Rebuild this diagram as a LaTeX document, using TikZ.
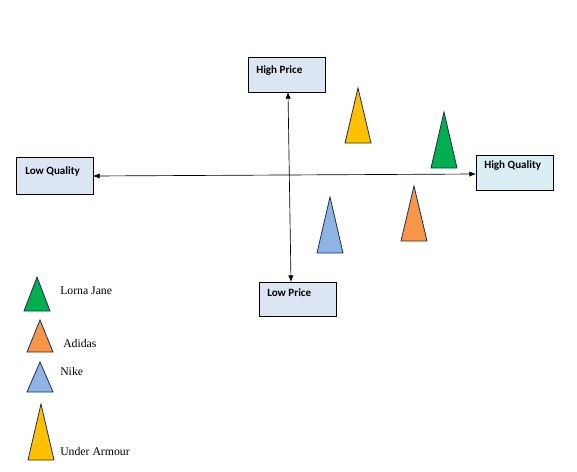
\documentclass[tikz,border=0pt]{standalone}
\usepackage{fontspec}
\setmainfont{Liberation Serif}
\newfontfamily\boxfont{Carlito}
\usetikzlibrary{arrows.meta}
\definecolor{boxblue}{HTML}{DCE6F2}
\definecolor{boxcyan}{HTML}{DBEEF4}
\definecolor{ua}{HTML}{FFC000}
\definecolor{lj}{HTML}{00B050}
\definecolor{ad}{HTML}{F79646}
\definecolor{nk}{HTML}{8EB4E3}
\definecolor{edge}{HTML}{1F2D4F}
\tikzset{
  lbox/.style={draw=black, line width=0.6pt, minimum width=77*0.75pt, minimum height=35*0.75pt, inner sep=0pt, fill=boxblue},
  ltext/.style={font=\boxfont\bfseries\fontsize{8.3}{9}\selectfont, anchor=north west, inner sep=0pt},
  axis/.style={line width=0.5pt, {Latex[length=5pt,width=4pt]}-{Latex[length=5pt,width=4pt]}},
  tri/.style={draw=edge, line width=0.6pt},
  legtext/.style={font=\fontsize{8.8}{10}\selectfont, anchor=west, inner sep=0pt}
}
\begin{document}
\begin{tikzpicture}[x=0.75pt,y=-0.75pt]
\useasboundingbox (0,0) rectangle (577,471);
% boxes
\node[lbox, anchor=north west] (hp) at (248,57) {};
\node[ltext] (hpt) at (256,65) {High Price};
\node[lbox, anchor=north west, minimum height=37*0.75pt] (lq) at (16,157) {};
\node[ltext] (lqt) at (25,166) {Low Quality};
\node[lbox, anchor=north west, fill=boxcyan] (hq) at (476,155) {};
\node[ltext] (hqt) at (484,160) {High Quality};
\node[lbox, anchor=north west, minimum height=34*0.75pt] (lp) at (259,282) {};
\node[ltext] (lpt) at (267,288) {Low Price};
% axes
\coordinate (hl) at (93,176);
\coordinate (hr) at (476,174);
\coordinate (vt) at (288,92);
\coordinate (vb) at (291,282);
\draw[axis] (hl) -- (hr);
\draw[axis] (vb) -- (vt);
% triangles in plot
\draw[tri, fill=ua] (358,88) -- (371,143) -- (345,143) -- cycle;
\draw[tri, fill=lj] (444,112) -- (457,168) -- (431,168) -- cycle;
\draw[tri, fill=ad] (414,186) -- (427,241) -- (401,241) -- cycle;
\draw[tri, fill=nk] (330,197) -- (343,253) -- (317,253) -- cycle;
% legend
\draw[tri, fill=lj] (37,277) -- (50,311) -- (24,311) -- cycle;
\node[legtext] (l1) at (60,291) {Lorna Jane};
\draw[tri, fill=ad] (40,320) -- (53,352) -- (27,352) -- cycle;
\node[legtext] (l2) at (63,343) {Adidas};
\draw[tri, fill=nk] (40,362) -- (53,392) -- (27,392) -- cycle;
\node[legtext] (l3) at (60,371) {Nike};
\draw[tri, fill=ua] (41,404) -- (54,460) -- (28,460) -- cycle;
\node[legtext] (l4) at (60,451) {Under Armour};
\end{tikzpicture}
\end{document}
